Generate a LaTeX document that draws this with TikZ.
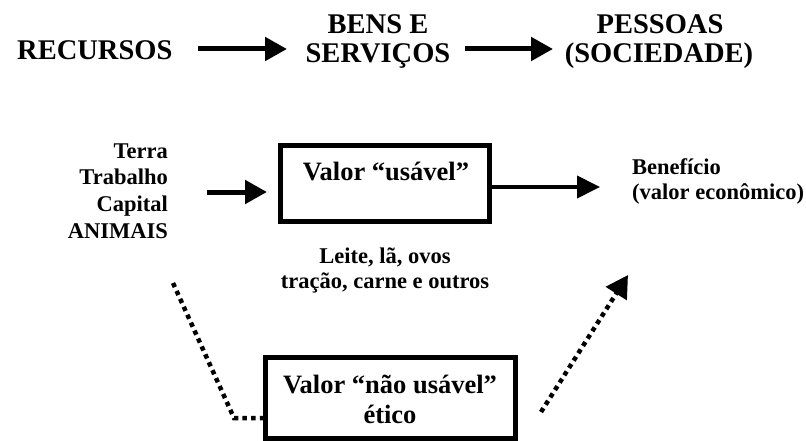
\documentclass[tikz,border=0pt]{standalone}
\usepackage{fontspec}
\setmainfont{Liberation Serif}
\usetikzlibrary{arrows.meta}
\begin{document}
\begin{tikzpicture}[x=1pt,y=-1pt,
  big/.style={inner sep=0pt, font=\bfseries\fontsize{28.5}{30}\selectfont},
  mid/.style={inner sep=0pt, font=\bfseries\fontsize{22.5}{24}\selectfont},
  boxt/.style={inner sep=0pt, font=\bfseries\fontsize{26.5}{28}\selectfont},
  frame/.style={draw, line width=5pt, inner sep=0pt},
  fat/.style={line width=5pt, -{Triangle[length=22pt,width=23pt]}},
  thin/.style={line width=4pt, -{Triangle[length=23pt,width=22pt]}},
  dotline/.style={line width=4.5pt, dash pattern=on 4.5pt off 4.2pt}]
\useasboundingbox (0,0) rectangle (806,441);
% top row
\node[big, anchor=base west] (rec) at (17,60) {RECURSOS};
\node[big, anchor=base] (bens1) at (378,34) {BENS E};
\node[big, anchor=base] (bens2) at (378,63) {SERVIÇOS};
\node[big, anchor=base] (pes1) at (660,34) {PESSOAS};
\node[big, anchor=base] (pes2) at (659,63) {(SOCIEDADE)};
\coordinate (a1s) at (198,49);
\coordinate (a1e) at (287,49);
\coordinate (a2s) at (465,49);
\coordinate (a2e) at (553,49);
\draw[fat] (a1s) -- (a1e);
\draw[fat] (a2s) -- (a2e);
% middle row
\node[mid, anchor=base east] (t1) at (168,158) {Terra};
\node[mid, anchor=base east] (t2) at (168,185) {Trabalho};
\node[mid, anchor=base east] (t3) at (168,211.5) {Capital};
\node[mid, anchor=base east] (t4) at (168,238) {ANIMAIS};
\node[frame, minimum width=209pt, minimum height=76pt] (box1) at (385,183.5) {};
\node[boxt, anchor=base] (v1) at (386,180) {Valor “usável”};
\node[mid, anchor=base] (l1) at (385,263) {Leite, lã, ovos};
\node[mid, anchor=base] (l2) at (385,288) {tração, carne e outros};
\node[mid, anchor=base west] (be1) at (632,175) {Benefício};
\node[mid, anchor=base west] (be2) at (632,200) {(valor econômico)};
\coordinate (inS) at (207,192);
\coordinate (inE) at (267,192);
\draw[fat] (inS) -- (inE);
\coordinate (outE) at (600,187);
\draw[thin] (box1.east |- outE) -- (outE);
% bottom
\node[frame, minimum width=250pt, minimum height=81pt] (box2) at (390.5,398) {};
\node[boxt, anchor=base] (v2) at (390,393) {Valor “não usável”};
\node[boxt, anchor=base] (v3) at (390,423) {ético};
\coordinate (dl) at (173,283);
\coordinate (dc) at (234,418);
\draw[dotline] (dl) -- (dc) -- (box2.west |- dc);
\coordinate (dr) at (541,412);
\coordinate (dt) at (628,275);
\draw[dotline, -{Triangle[length=22pt,width=24pt]}] (dr) -- (dt);
\end{tikzpicture}
\end{document}
